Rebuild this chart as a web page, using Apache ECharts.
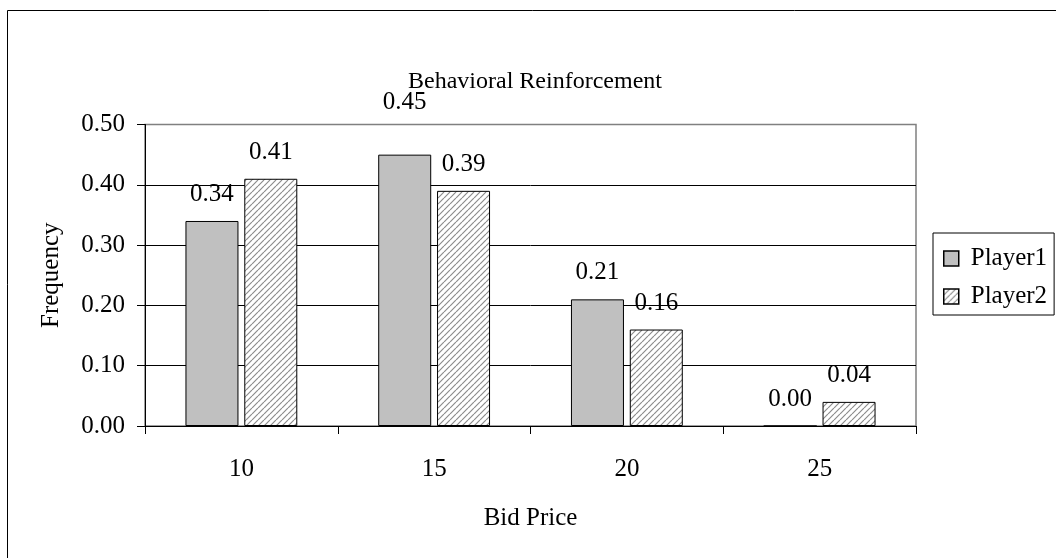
<!DOCTYPE html>
<html>
<head>
<meta charset="utf-8">
<script src="https://cdn.jsdelivr.net/npm/echarts@6/dist/echarts.min.js"></script>
<style>
  html, body { margin: 0; padding: 0; background: #fff; }
  #chart { width: 1056px; height: 558px; }
</style>
</head>
<body>
<div id="chart"></div>
<script>
// Bid price categories and the observed frequency for each player
const categories = ['10', '15', '20', '25'];
const player1 = [0.34, 0.45, 0.21, 0.00];
const player2 = [0.41, 0.39, 0.16, 0.04];
const seriesNames = ['Player1', 'Player2'];

const FONT = '"Liberation Serif", "Times New Roman", serif';
const TEXT_SIZE = 25;

// Diagonal hatch tile used as the Player2 fill
function hatchTile() {
  const c = document.createElement('canvas');
  c.width = 6; c.height = 6;
  const g = c.getContext('2d');
  g.fillStyle = '#ffffff';
  g.fillRect(0, 0, 6, 6);
  g.strokeStyle = '#8c8c8c';
  g.lineWidth = 1.2;
  g.beginPath();
  for (let k = -6; k <= 12; k += 6) {
    g.moveTo(k, 6);
    g.lineTo(k + 6, 0);
  }
  g.stroke();
  return c;
}
const hatch = { image: hatchTile(), repeat: 'repeat' };

const chart = echarts.init(document.getElementById('chart'), null, { renderer: 'canvas' });

const labelStyle = {
  show: true,
  position: 'top',
  distance: 14,
  fontFamily: FONT,
  fontSize: TEXT_SIZE,
  color: '#000',
  formatter: p => p.value.toFixed(2)
};

// A bar reaching past the top gridline gets its label lifted clear of the frame
function barData(values) {
  return values.map(v => (v > 0.42 ? { value: v, label: { distance: 40 } } : v));
}

chart.setOption({
  animation: false,
  backgroundColor: '#ffffff',
  title: {
    text: 'Behavioral Reinforcement',
    left: 530,
    top: 65,
    textAlign: 'center',
    textStyle: { fontFamily: FONT, fontSize: 24, fontWeight: 'normal', color: '#000' }
  },
  graphic: [{
    type: 'rect',
    shape: { x: 7.5, y: 10.5, width: 1100, height: 600 },
    style: { fill: 'none', stroke: '#000', lineWidth: 1 },
    silent: true,
    z: -10
  }],
  legend: {
    orient: 'vertical',
    left: 933,
    top: 233,
    padding: [13, 7, 6, 10],
    itemGap: 13,
    icon: 'rect',
    itemWidth: 15,
    itemHeight: 15,
    itemStyle: { borderColor: '#000', borderWidth: 1.5 },
    borderColor: '#000',
    borderWidth: 1,
    textStyle: { fontFamily: FONT, fontSize: TEXT_SIZE, color: '#000', padding: [0, 0, 0, 7] },
    data: seriesNames
  },
  grid: {
    left: 145,
    top: 124.5,
    right: 140,
    bottom: 132,
    show: true,
    borderColor: '#808080',
    borderWidth: 1.5
  },
  xAxis: {
    type: 'category',
    data: categories,
    name: 'Bid Price',
    nameLocation: 'middle',
    nameGap: 80,
    nameTextStyle: { fontFamily: FONT, fontSize: TEXT_SIZE, color: '#000' },
    axisLine: { lineStyle: { color: '#000', width: 1 } },
    axisTick: { show: true, length: 8, lineStyle: { color: '#000' } },
    axisLabel: { margin: 31, fontFamily: FONT, fontSize: TEXT_SIZE, color: '#000' },
    splitLine: { show: false }
  },
  yAxis: {
    type: 'value',
    min: 0,
    max: 0.5,
    interval: 0.1,
    name: 'Frequency',
    nameLocation: 'middle',
    nameGap: 81,
    nameTextStyle: { fontFamily: FONT, fontSize: TEXT_SIZE, color: '#000' },
    axisLine: { show: true, lineStyle: { color: '#000', width: 1 } },
    axisTick: { show: true, length: 8, lineStyle: { color: '#000' } },
    axisLabel: {
      margin: 20,
      fontFamily: FONT,
      fontSize: TEXT_SIZE,
      color: '#000',
      formatter: v => v.toFixed(2)
    },
    splitLine: {
      show: true,
      lineStyle: { color: ['#000', '#000', '#000', '#000', '#000', '#808080'], width: 1 }
    }
  },
  series: [
    {
      name: seriesNames[0],
      type: 'bar',
      data: barData(player1),
      barWidth: 53,
      barGap: '11%',
      itemStyle: { color: '#c0c0c0', borderColor: '#000', borderWidth: 1 },
      label: labelStyle
    },
    {
      name: seriesNames[1],
      type: 'bar',
      data: barData(player2),
      barWidth: 53,
      barGap: '11%',
      itemStyle: { color: hatch, borderColor: '#000', borderWidth: 1 },
      label: labelStyle
    }
  ]
});
</script>
</body>
</html>
